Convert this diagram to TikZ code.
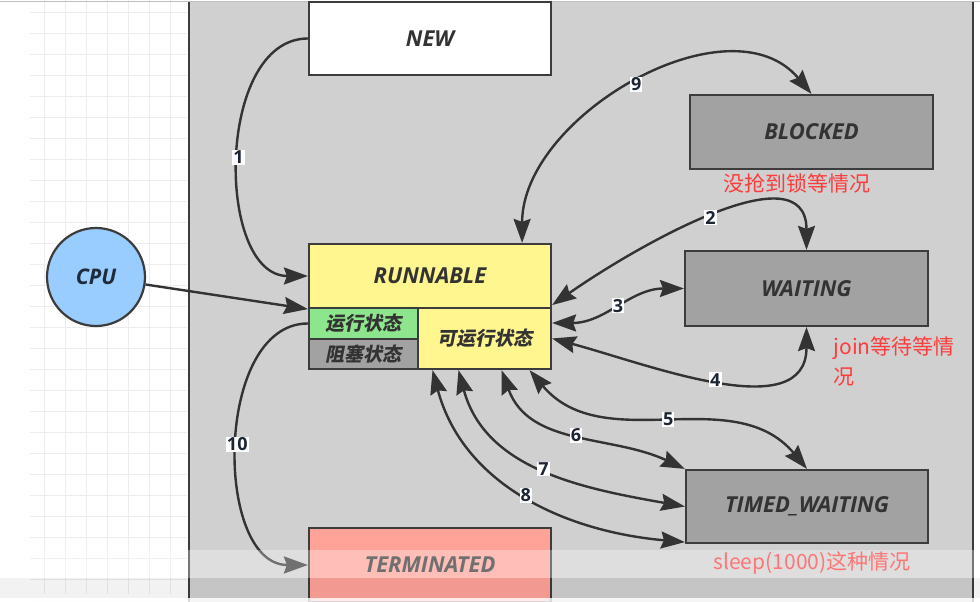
\documentclass[tikz,border=0pt]{standalone}
\usepackage{fontspec}
\setmainfont{Open Sans}
\newfontfamily\cjk{Noto Sans CJK SC}
\newfontfamily\cjkslant{Noto Sans CJK SC}[FakeSlant=0.2]
\usepackage{xcolor}
\usepackage{tikz}
\usetikzlibrary{arrows.meta, calc}

\definecolor{panelgray}{HTML}{D0D0D0}
\definecolor{boxgray}{HTML}{A2A2A2}
\definecolor{boxline}{HTML}{3C3C3C}
\definecolor{arrowline}{HTML}{333333}
\definecolor{runyellow}{HTML}{FFF68F}
\definecolor{rungreen}{HTML}{8DE68D}
\definecolor{termred}{HTML}{FFA399}
\definecolor{cpublue}{HTML}{99CCFF}
\definecolor{statetext}{HTML}{333333}
\definecolor{cputext}{HTML}{1F2A3A}
\definecolor{numtext}{HTML}{1C2533}
\definecolor{notered}{HTML}{FF3B3B}
\definecolor{gridline}{HTML}{EDEDED}

\begin{document}
\begin{tikzpicture}[x=1pt, y=1pt,
    >={Stealth[length=24pt, width=17pt, inset=3pt]},
    state/.style={draw=boxline, line width=2.2pt, inner sep=0pt, text=statetext, font=\fontsize{22}{26}\selectfont\bfseries\itshape},
    sub/.style={draw=boxline, line width=2.2pt, inner sep=0pt, text=statetext, font=\fontsize{19}{22}\selectfont\cjkslant\bfseries},
    arr/.style={->, draw=arrowline, line width=2.4pt},
    twoway/.style={<->, draw=arrowline, line width=2.4pt},
    num/.style={fill=white, inner sep=1pt, text=numtext, font=\fontsize{18}{19}\selectfont\bfseries},
    note/.style={text=notered, font=\fontsize{21}{30}\selectfont\cjk}]
    \useasboundingbox (0,0) rectangle (980,602);
    \fill[white] (0,0) rectangle (980,602);
    % grid on the left
    \foreach \gx in {44,65,...,186} \draw[gridline, line width=1pt] (\gx,8) -- (\gx,602);
    \foreach \gy in {1,22,...,589} \draw[gridline, line width=1pt] (30,\gy) -- (187,\gy);
    \draw[gray!50, line width=1.5pt] (0,600.5) -- (980,600.5);
    % panel
    \fill[panelgray] (189,0) rectangle (973,600);
    \draw[boxline, line width=2pt] (189,0) -- (189,600);
    \draw[boxline, line width=2pt] (973,0) -- (973,600);

    % states
    \node[state, fill=white, minimum width=242, minimum height=73] (new) at (430,563.5) {NEW};
    \node[state, fill=boxgray, minimum width=243, minimum height=74] (blocked) at (811.5,470) {BLOCKED};
    \node[state, fill=boxgray, minimum width=243, minimum height=75] (waiting) at (806.5,313.5) {WAITING};
    \node[state, fill=boxgray, minimum width=242, minimum height=73] (timed) at (807,95.5) {TIMED\_WAITING};
    \node[state, fill=runyellow, minimum width=242, minimum height=64] (runnable) at (430,326) {RUNNABLE};
    \node[sub, fill=rungreen, minimum width=109, minimum height=31] (running) at (363.5,278.5) {运行状态};
    \node[sub, fill=boxgray, minimum width=109, minimum height=30] (blocking) at (363.5,248) {阻塞状态};
    \node[sub, fill=runyellow, minimum width=133, minimum height=61] (ready) at (484.5,263.5) {可运行状态};
    \node[state, fill=termred, minimum width=242, minimum height=74] (terminated) at (430,37) {TERMINATED};
    \node[circle, draw=boxline, line width=2.2pt, fill=cpublue, minimum size=98, inner sep=0pt,
          text=cputext, font=\fontsize{21.5}{24}\selectfont\bfseries\itshape] (cpu) at (96,325) {CPU};

    % notes
    \node[note] (blockednote) at (797,419) {没抢到锁等情况};
    \node[note, align=left, anchor=west] (waitnote) at (830,241) {join等待等情\\况};
    \node[note] (timednote) at (812,39) {sleep(1000)这种情况};

    % transitions
    \draw[arr] (new.west) to[out=180, in=180] node[num] {1} (runnable.west);
    \draw[arr] (cpu) -- (runnable.south west);
    \draw[arr] (running.west) to[out=180, in=180] node[num] {10} (terminated.west);
    \draw[twoway] ([xshift=-30]runnable.north east) to[out=90, in=130] node[num] {9} (blocked.north);
    \draw[twoway] ([yshift=4]runnable.south east) to[out=35, in=90] node[num] {2} (waiting.north);
    \draw[twoway] ([yshift=15.5]ready.east) to[out=0, in=180] node[num] {3} (waiting.west);
    \draw[twoway] (ready.east) to[out=-15, in=-90] node[num] {4} (waiting.south);
    \draw[twoway] ([xshift=45]ready.south) to[out=-50, in=130] node[num] {5} (timed.north);
    \draw[twoway] ([xshift=17]ready.south) to[out=-70, in=155] node[num] {6} (timed.north west);
    \draw[twoway] ([xshift=-26]ready.south) to[out=-75, in=170] node[num] {7} (timed.west);
    \draw[twoway] ([xshift=-52]ready.south) to[out=-75, in=175] node[num] {8} ([yshift=2]timed.south west);

    % bottom band
    \fill[white, opacity=0.3] (0,24) rectangle (980,52);
    \fill[black, opacity=0.05] (0,4) rectangle (980,24);
    \fill[white, opacity=0.8] (0,0) rectangle (980,4);
\end{tikzpicture}
\end{document}
